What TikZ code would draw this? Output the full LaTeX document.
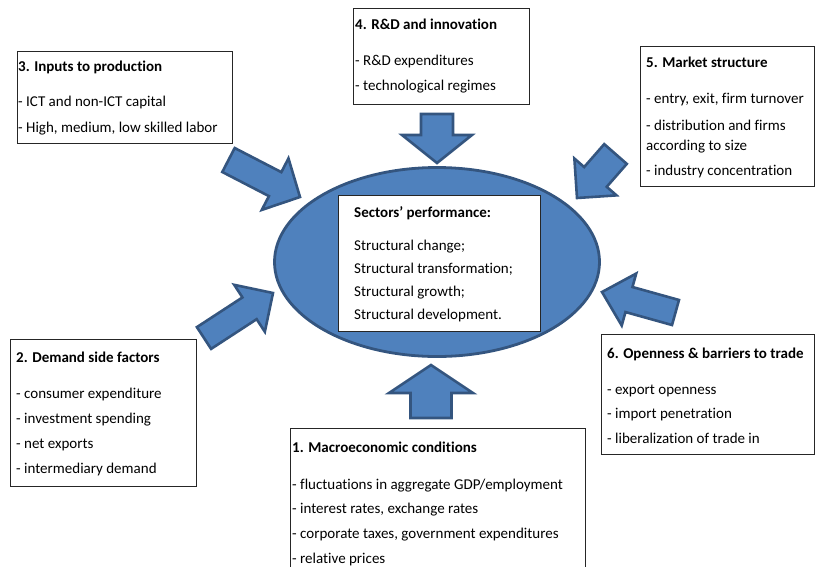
\documentclass[tikz,border=0pt]{standalone}
\usepackage{fontspec}
\setmainfont{Carlito}[Ligatures={NoCommon,NoContextual}]
\usetikzlibrary{calc}
\usetikzlibrary{shapes.geometric}

\definecolor{blockfill}{HTML}{4F81BD}
\definecolor{blockline}{HTML}{34557F}

% #1 tail, #2 tip, #3 half shaft, #4 half head, #5 head length
\newcommand{\blockarrow}[5]{%
	\coordinate (#1-h) at ($(#2)!#5!(#1)$);
	\draw[blockarr] ($(#1)!#3!90:(#2)$) -- ($(#1-h)!#3!-90:(#1)$) -- ($(#1-h)!#4!-90:(#1)$) -- (#2)
		-- ($(#1-h)!#4!90:(#1)$) -- ($(#1-h)!#3!90:(#1)$) -- ($(#1)!#3!-90:(#2)$) -- cycle;
}

\begin{document}
\begin{tikzpicture}[x=1pt,y=-1pt,
	factor/.style={draw=black!85,line width=0.8pt,fill=white,anchor=north west,inner sep=0pt},
	factortext/.style={anchor=north west,align=left,inner sep=0pt,font=\fontsize{15}{20}\selectfont},
	blockarr/.style={fill=blockfill,draw=blockline,line width=2.6pt,line join=miter}]
	\useasboundingbox (0,0) rectangle (816,566);
	\clip (0,0) rectangle (816,566);

	% centre
	\node[ellipse,draw=blockline,fill=blockfill,line width=2.8pt,minimum width=325pt,minimum height=189pt] (perf) at (437,262) {};
	\node[factor,minimum width=202pt,minimum height=136pt] (perfbox) at (338,195) {};
	\node[factortext] (perftext) at (354,206) {\textbf{Sectors’ performance:}\\[13pt]
		Structural change;\\[3pt] Structural transformation;\\[3pt] Structural growth;\\[3pt] Structural development.};

	% factor boxes
	\node[factor,minimum width=215pt,minimum height=92pt] (inputs) at (17,51) {};
	\node[factortext] (inputstext) at (18,61) {\textbf{3. Inputs to production}\\[15pt]
		- ICT and non-ICT capital\\[6pt] - High, medium, low skilled labor};

	\node[factor,minimum width=176pt,minimum height=96pt] (rnd) at (353,8) {};
	\node[factortext] (rndtext) at (355,19) {\textbf{4. R\&D and innovation}\\[16pt]
		- R\&D expenditures\\[5pt] - technological regimes};

	\node[factor,minimum width=174pt,minimum height=140pt] (market) at (640,46) {};
	\node[factortext] (markettext) at (646,57) {\textbf{5. Market structure}\\[16pt]
		- entry, exit, firm turnover\\[7pt] - distribution and firms\\ according to size\\[5pt] - industry concentration};

	\node[factor,minimum width=186pt,minimum height=147pt] (demand) at (10,339) {};
	\node[factortext] (demandtext) at (16,352) {\textbf{2. Demand side factors}\\[16pt]
		- consumer expenditure\\[5pt] - investment spending\\[5pt] - net exports\\[5pt] - intermediary demand};

	\node[factor,minimum width=295pt,minimum height=180pt] (macro) at (290,428) {};
	\node[factortext] (macrotext) at (292,442) {\textbf{1. Macroeconomic conditions}\\[17pt]
		- fluctuations in aggregate GDP/employment\\[4pt] - interest rates, exchange rates\\[5pt]
		- corporate taxes, government expenditures\\[5pt] - relative prices};

	\node[factor,minimum width=213pt,minimum height=120pt] (trade) at (601,334) {};
	\node[factortext] (tradetext) at (607,348) {\textbf{6. Openness \& barriers to trade}\\[16pt]
		- export openness\\[4pt] - import penetration\\[5pt] - liberalization of trade in};

	% block arrows
	\coordinate (rnd-tail) at (437,114);      \coordinate (rnd-tip) at (437,163);
	\coordinate (macro-tail) at (431,418);    \coordinate (macro-tip) at (431,365);
	\coordinate (inputs-tail) at (228.5,160); \coordinate (inputs-tip) at (300,197);
	\coordinate (market-tail) at (615.5,154); \coordinate (market-tip) at (577,198);
	\coordinate (demand-tail) at (204,338);   \coordinate (demand-tip) at (273,293);
	\coordinate (trade-tail) at (675.5,312.5); \coordinate (trade-tip) at (602,292);

	\blockarrow{rnd-tail}{rnd-tip}{16pt}{35pt}{28pt}
	\blockarrow{macro-tail}{macro-tip}{20.5pt}{42pt}{28pt}
	\blockarrow{inputs-tail}{inputs-tip}{13.5pt}{29pt}{28pt}
	\blockarrow{market-tail}{market-tip}{15pt}{28pt}{28pt}
	\blockarrow{demand-tail}{demand-tip}{13pt}{28pt}{28pt}
	\blockarrow{trade-tail}{trade-tip}{13pt}{27pt}{28pt}
\end{tikzpicture}
\end{document}
